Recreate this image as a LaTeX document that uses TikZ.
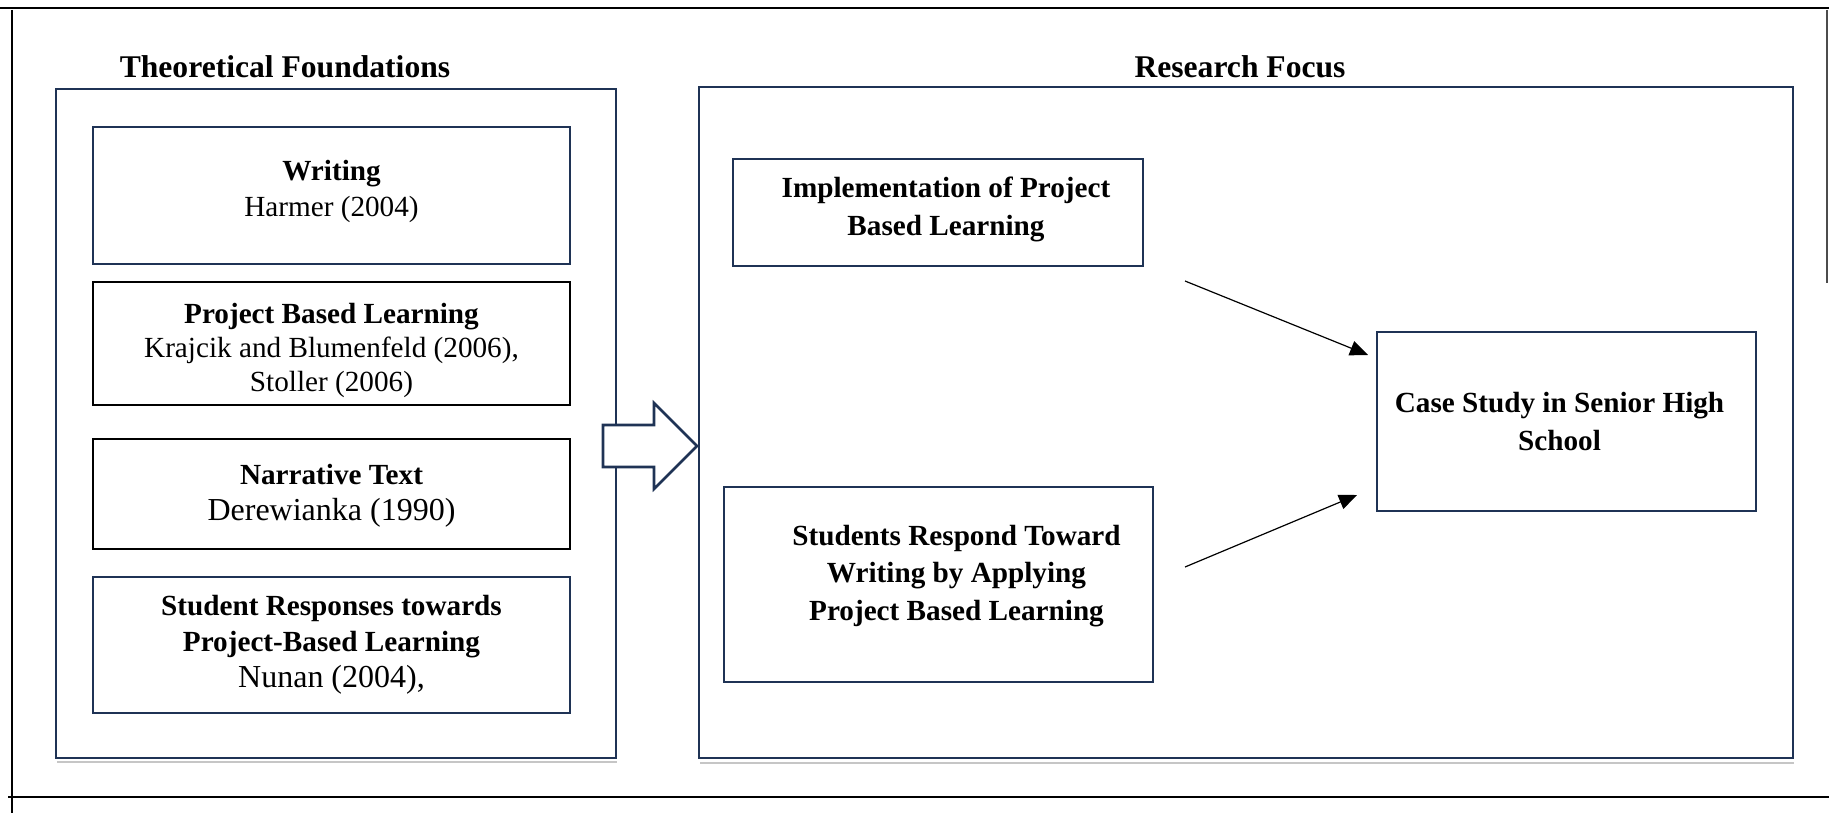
\documentclass[tikz,border=0pt]{standalone}
\usepackage{fontspec}
\setmainfont{Liberation Serif}
\usetikzlibrary{arrows.meta}
\definecolor{navy}{HTML}{1F3355}
\newcommand{\boxfont}{\fontsize{14.6}{18}\selectfont}
\newcommand{\bigref}{\fontsize{16}{18}\selectfont}
\newcommand{\headfont}{\fontsize{15.8}{18}\selectfont\bfseries}

\begin{document}
\begin{tikzpicture}[x=0.5pt,y=-0.5pt,
  rule/.style={line width=1pt,black},
  panel/.style={draw=navy,line width=1.3pt,inner sep=0pt},
  heading/.style={font=\headfont,anchor=base,inner sep=0pt},
  textbox/.style={draw=navy,line width=1.1pt,fill=white,inner sep=0pt},
  darkbox/.style={textbox,draw=black,line width=1.3pt},
  boxlabel/.style={align=center,font=\boxfont,inner sep=0pt},
  link/.style={line width=0.6pt,black,-{Triangle[length=9pt,width=7.5pt]}}
]
\useasboundingbox (0,0) rectangle (1829,813);

% page rules around the figure
\draw[rule] (0,8) -- (1829,8);
\draw[line width=0.6pt] (12,10) -- (12,813);
\draw[line width=0.6pt,black!70] (1827,10) -- (1827,283);
\draw[rule] (8,797) -- (1829,797);

% headings
\node[heading] (thead) at (285,78) {Theoretical Foundations};
\node[heading] (rhead) at (1240,78) {Research Focus};

% outer panels
\draw[gray!45,line width=1pt] (57,762) -- (617,762);
\draw[gray!45,line width=1pt] (700,763) -- (1794,763);
\node[panel,minimum width=280pt,minimum height=334.5pt] (theory) at (336,423.5) {};
\node[panel,minimum width=547pt,minimum height=335.5pt] (focus) at (1246,422.5) {};

% theoretical foundations
\node[textbox,minimum width=238.5pt,minimum height=68.5pt,
  label={[boxlabel,yshift=2pt]center:{\textbf{Writing}\\Harmer (2004)}}]
  (writing) at (331.5,195.5) {};
\node[darkbox,minimum width=238.5pt,minimum height=61.5pt,
  label={[boxlabel,font=\fontsize{14.6}{17}\selectfont,yshift=-3.5pt]center:{\textbf{Project Based Learning}\\Krajcik and Blumenfeld (2006),\\Stoller (2006)}}]
  (pbl) at (331.5,343.5) {};
\node[darkbox,minimum width=238.5pt,minimum height=55pt,
  label={[boxlabel,yshift=-1pt]center:{\textbf{Narrative Text}\\{\bigref Derewianka (1990)}}}]
  (narr) at (331.5,494) {};
\node[textbox,minimum width=238.5pt,minimum height=68pt,
  label={[boxlabel]center:{\textbf{Student Responses towards}\\\textbf{Project-Based Learning}\\{\bigref Nunan (2004),}}}]
  (resp) at (331.5,645) {};

% block arrow between the panels
\draw[draw=navy,line width=1.3pt,fill=white,line join=miter]
  (603,425) -- (654,425) -- (654,403) -- (697,446) -- (654,489)
  -- (654,467) -- (603,467) -- cycle;

% research focus
\node[textbox,minimum width=205pt,minimum height=53.5pt,
  label={[boxlabel,font=\fontsize{14.6}{18.7}\selectfont,xshift=4pt,yshift=1.5pt]center:{\textbf{Implementation of Project}\\\textbf{Based Learning}}}]
  (impl) at (938,212.5) {};
\node[textbox,minimum width=214.5pt,minimum height=97.5pt,
  label={[boxlabel,font=\fontsize{14.6}{18.7}\selectfont,xshift=9pt,yshift=4.3pt]center:{\textbf{Students Respond Toward}\\\textbf{Writing by Applying}\\\textbf{Project Based Learning}}}]
  (apply) at (938.5,584.5) {};
\node[textbox,minimum width=189.5pt,minimum height=89.5pt,
  label={[boxlabel,font=\fontsize{14.6}{18.7}\selectfont,xshift=-3.5pt]center:{\textbf{Case Study in Senior High}\\\textbf{School}}}]
  (case) at (1566.5,421.5) {};

% connectors
\coordinate (l1s) at (1185,281);
\coordinate (l1e) at (1368,355);
\coordinate (l2s) at (1185,567);
\coordinate (l2e) at (1357,495);
\draw[link] (l1s) -- (l1e);
\draw[link] (l2s) -- (l2e);
\end{tikzpicture}
\end{document}
